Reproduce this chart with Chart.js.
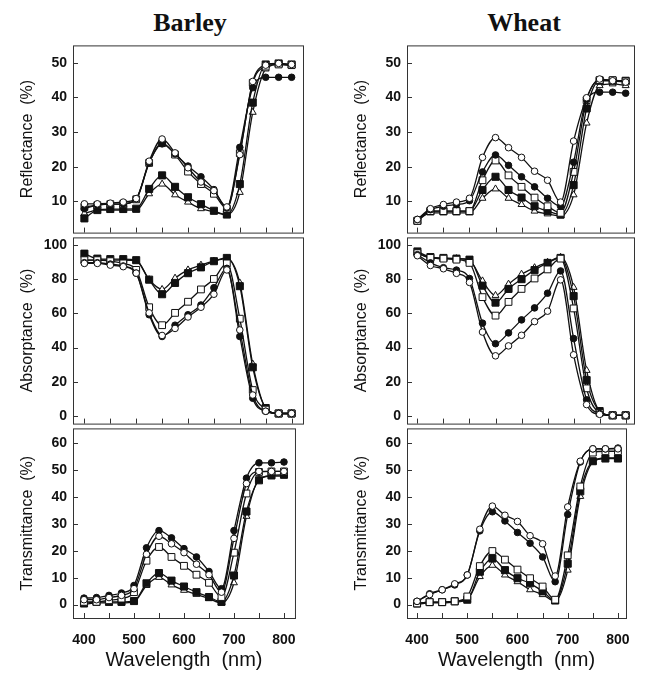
<!DOCTYPE html>
<html>
<head>
<meta charset="utf-8">
<script src="https://cdn.jsdelivr.net/npm/chart.js@4.4.1/dist/chart.umd.min.js"></script>
<style>
  body { margin: 0; background: #fff; }
  #page { position: relative; width: 648px; height: 673px; overflow: hidden; }
  .panel { position: absolute; }
  .crop { position: absolute; top: 8px; line-height: 30px; transform: translateX(-50%);
          font: bold 26px 'Liberation Serif', 'Times New Roman', serif; color: #111; }
</style>
</head>
<body>
<div id="page">
  <div class="crop" style="left:190px">Barley</div>
  <div class="crop" style="left:524px">Wheat</div>
</div>
<script>
const wavelengths = [400, 425, 450, 475, 500, 525, 550, 575, 600, 625, 650, 675, 700, 725, 750, 775, 800];
const xTicks = [400, 450, 500, 550, 600, 650, 700, 750, 800];
const reflTicks = [10, 20, 30, 40, 50];
const absTicks = [0, 20, 40, 60, 80, 100];
const transTicks = [0, 10, 20, 30, 40, 50, 60];

// series order: open circle, filled circle, open square, filled square, open triangle

// barley reflectance (%)
const barleyReflOC = [9.3, 9.3, 9.5, 9.8, 10.8, 21.6, 28, 24, 19.7, 15.6, 13.1, 8.4, 23.5, 44.6, 49.3, 49.8, 49.5];
const barleyReflFC = [7.9, 8.9, 9.2, 9.3, 10.8, 21.1, 26.6, 23.7, 20.2, 17.1, 13.4, 8.1, 25.6, 42.8, 45.8, 45.8, 45.8];
const barleyReflOS = [8.4, 8.9, 9.2, 9.3, 10.6, 21.1, 26.8, 23.5, 18.6, 15, 12.2, 7.9, 23.9, 44.2, 48.9, 49.5, 49.3];
const barleyReflFS = [5.1, 7.5, 7.8, 7.8, 7.9, 13.6, 17.5, 14.2, 11.2, 9.2, 7.3, 6.2, 15, 38.5, 49.5, 49.8, 49.5];
const barleyReflOT = [6.5, 7.5, 7.5, 7.5, 7.5, 12.2, 15, 11.9, 9.8, 7.9, 7, 6.1, 12.6, 35.7, 48.2, 49.5, 49.2];

// barley absorptance (%)
const barleyAbsOC = [89.2, 89.2, 88.2, 87.3, 83.5, 60.3, 47.1, 51.2, 57.9, 63.6, 71.2, 85.4, 50.3, 12.3, 2.8, 1.5, 1.5];
const barleyAbsFC = [89.6, 89.6, 88.8, 87.7, 83.5, 59.2, 46.5, 53.1, 59.2, 64.9, 75, 86.3, 46.5, 10.4, 2.8, 1.5, 1.5];
const barleyAbsOS = [91.1, 91.1, 90.5, 89.2, 85.4, 63.6, 53.1, 60.3, 66.8, 74, 80.1, 89.2, 56.9, 15.2, 3.8, 1.5, 1.5];
const barleyAbsFS = [94.9, 92, 91.7, 91.7, 91.1, 79.7, 71.2, 77.8, 83.5, 86.9, 90.5, 92.4, 75.9, 28.5, 4.7, 1.5, 1.5];
const barleyAbsOT = [91.1, 91.1, 91.1, 91.1, 90.7, 79.7, 74, 80.6, 85.4, 88.2, 90.5, 92, 77.8, 30.4, 4.7, 1.5, 1.5];

// barley transmittance (%)
const barleyTransOC = [1.8, 1.8, 2.6, 3.4, 5.9, 18.7, 25.4, 22.6, 19.3, 15, 11.1, 4.6, 24.6, 45, 49.5, 49.5, 49.5];
const barleyTransFC = [2.4, 2.6, 3.4, 4.3, 7.1, 21.1, 27.5, 24.8, 20.8, 17.7, 12.3, 5.9, 27.5, 47, 52.7, 52.7, 53];
const barleyTransOS = [1, 1, 1.6, 2.2, 4.6, 16.3, 21.4, 17.7, 14.4, 11.1, 8.1, 2.8, 19.3, 41.3, 49.3, 49.5, 49.5];
const barleyTransFS = [0.4, 1, 1, 1, 1.3, 7.9, 11.7, 8.9, 6.7, 4.6, 2.8, 1, 10.8, 34.6, 46.2, 48, 48.3];
const barleyTransOT = [0, 0.6, 0.6, 0.6, 1, 7.1, 10.1, 7.3, 5.3, 3.8, 2.2, 0.6, 8.1, 32.8, 46.6, 47.8, 47.8];

// wheat reflectance (%)
const wheatReflOC = [4.8, 7.9, 9.1, 9.8, 10.9, 22.7, 28.4, 25.5, 22.7, 18.7, 16.1, 9.8, 27.4, 39.9, 45.3, 44.8, 44.4];
const wheatReflFC = [4.8, 7.6, 8.6, 9.1, 10.2, 18.5, 23.4, 20.4, 17.1, 14.2, 10.9, 8.6, 21.3, 39.4, 41.5, 41.5, 41.2];
const wheatReflOS = [4.4, 7.2, 7.2, 7.2, 7.2, 16.1, 21.8, 17.5, 14.2, 11.1, 8.6, 6.7, 18.5, 39.2, 45, 45, 44.6];
const wheatReflFS = [4.4, 7.2, 7.2, 7.2, 7.2, 13.3, 17.1, 13.3, 11.1, 8.6, 7.2, 6.2, 14.7, 36.8, 44.8, 44.8, 44.8];
const wheatReflOT = [4.4, 6.7, 6.7, 6.7, 6.7, 10.9, 13.6, 10.9, 9.1, 7.2, 6.4, 5.8, 11.9, 32.6, 43.4, 43.9, 43.4];

// wheat absorptance (%)
const wheatAbsOC = [93.7, 88, 86.1, 83.4, 78.1, 49.1, 35.2, 41, 47.2, 55.2, 61.3, 79.6, 35.8, 6.7, 1, 0.4, 0.4];
const wheatAbsFC = [94.3, 89.5, 86.7, 85.3, 80.4, 54.3, 42.3, 48.6, 56.2, 63.2, 71.8, 84.8, 45.3, 9.5, 1.5, 0.4, 0.4];
const wheatAbsOS = [95.2, 92.4, 92, 91.4, 89.5, 69.5, 58.7, 66.7, 74.3, 80.4, 85.7, 92, 62.9, 16.2, 1.9, 0.4, 0.4];
const wheatAbsFS = [96.2, 92.9, 92.4, 92, 91.4, 76.2, 66.3, 74.3, 80, 85.3, 89.5, 92.4, 70.1, 21, 2.9, 0.4, 0.4];
const wheatAbsOT = [95.2, 92.4, 92, 92, 91, 79, 70.5, 77.1, 82.9, 86.7, 89.9, 92.8, 75.2, 26.7, 2.9, 0.4, 0.4];

// wheat transmittance (%)
const wheatTransOC = [1.2, 3.7, 5.5, 7.7, 11, 28, 36.6, 33.2, 30.9, 25.6, 22.6, 10.6, 36.3, 53.3, 57.9, 57.9, 57.9];
const wheatTransFC = [1.2, 4, 5.5, 7.3, 11, 27.4, 34.5, 31.1, 26.8, 22.8, 17.7, 8.5, 33.5, 53, 57.9, 57.9, 58.2];
const wheatTransOS = [0.4, 0.9, 0.9, 1.2, 3, 14.3, 19.9, 16.7, 13, 9.8, 6.7, 1.8, 18.3, 43.9, 56.5, 57, 57];
const wheatTransFS = [0.4, 0.9, 0.9, 1.2, 1.8, 12.2, 17.1, 12.8, 9.8, 7.9, 4.9, 1.5, 15.2, 42.1, 53.3, 54.3, 54.3];
const wheatTransOT = [0, 0.6, 0.6, 0.9, 1.8, 10.4, 14.6, 11, 8.5, 5.5, 3.7, 1.2, 12.8, 40.2, 53, 54.5, 54.5];

const ink = '#111';
const markerStyles = [
  { pointStyle: 'circle', pointRadius: 3.3, pointBackgroundColor: '#fff' },
  { pointStyle: 'circle', pointRadius: 3.3, pointBackgroundColor: ink },
  { pointStyle: 'rect', pointRadius: 4.8, pointBackgroundColor: '#fff' },
  { pointStyle: 'rect', pointRadius: 5, pointBackgroundColor: ink },
  { pointStyle: 'triangle', pointRadius: 4, pointBackgroundColor: '#fff' }
];

Chart.defaults.font.family = "'Liberation Sans', Arial, sans-serif";
Chart.defaults.color = ink;

// box around the plot area plus inward tick marks
const framePlugin = {
  id: 'frame',
  afterDraw(chart) {
    const { ctx, chartArea: a, scales: { x, y } } = chart;
    ctx.save();
    ctx.strokeStyle = '#333';
    ctx.lineWidth = 1;
    ctx.strokeRect(a.left + 0.5, a.top + 0.5, a.right - a.left, a.bottom - a.top);
    ctx.beginPath();
    xTicks.forEach(v => {
      const px = Math.round(x.getPixelForValue(v)) + 0.5;
      ctx.moveTo(px, a.bottom);
      ctx.lineTo(px, a.bottom - 5);
    });
    y.ticks.forEach(t => {
      const py = Math.round(y.getPixelForValue(t.value)) + 0.5;
      ctx.moveTo(a.left, py);
      ctx.lineTo(a.left + 5, py);
    });
    ctx.stroke();
    ctx.restore();
  }
};

function makePanel(p) {
  const div = document.createElement('div');
  div.className = 'panel';
  div.style.left = p.left + 'px';
  div.style.top = p.top + 'px';
  const canvas = document.createElement('canvas');
  canvas.width = 310;
  canvas.height = p.height;
  div.appendChild(canvas);
  document.getElementById('page').appendChild(div);

  const datasets = p.series.map((vals, i) => Object.assign({
    data: vals.map((v, j) => ({ x: wavelengths[j], y: v })),
    borderColor: ink,
    borderWidth: 1.3,
    cubicInterpolationMode: 'monotone',
    pointBorderColor: ink,
    pointBorderWidth: 1
  }, markerStyles[i]));

  new Chart(canvas, {
    type: 'line',
    data: { datasets: datasets },
    options: {
      responsive: false,
      animation: false,
      layout: { autoPadding: false, padding: { top: 12, bottom: p.bottomRow ? 0 : 12, left: 0, right: p.padRight } },
      plugins: { legend: { display: false }, tooltip: { enabled: false } },
      scales: {
        x: {
          type: 'linear',
          min: p.xMin,
          max: p.xMax,
          display: p.bottomRow,
          grid: { display: false, drawTicks: false },
          border: { display: false },
          afterBuildTicks: s => { s.ticks = xTicks.map(v => ({ value: v })); },
          afterFit: s => { s.height = p.bottomRow ? 55 : 0; },
          ticks: {
            autoSkip: false, maxRotation: 0, padding: 14,
            font: { size: 14, weight: 'bold' },
            callback: v => (v % 100 === 0 ? String(v) : '')
          },
          title: { display: true, text: 'Wavelength  (nm)', font: { size: 20 }, padding: { top: 0, bottom: 1 } }
        },
        y: {
          min: p.yMin,
          max: p.yMax,
          grid: { display: false, drawTicks: false },
          border: { display: false },
          afterBuildTicks: s => { s.ticks = p.yTicks.map(v => ({ value: v })); },
          afterFit: s => { s.width = 73; },
          ticks: { padding: 6, font: { size: 14, weight: 'bold' } },
          title: { display: true, text: p.yTitle, font: { size: 16 }, padding: { top: 18.4 } }
        }
      }
    },
    plugins: [framePlugin]
  });
}

const columns = [
  { left: 0, padRight: 7, xMin: 378, xMax: 822,
    refl: [barleyReflOC, barleyReflFC, barleyReflOS, barleyReflFS, barleyReflOT],
    abs: [barleyAbsOC, barleyAbsFC, barleyAbsOS, barleyAbsFS, barleyAbsOT],
    trans: [barleyTransOC, barleyTransFC, barleyTransOS, barleyTransFS, barleyTransOT] },
  { left: 334, padRight: 10, xMin: 380, xMax: 816,
    refl: [wheatReflOC, wheatReflFC, wheatReflOS, wheatReflFS, wheatReflOT],
    abs: [wheatAbsOC, wheatAbsFC, wheatAbsOS, wheatAbsFS, wheatAbsOT],
    trans: [wheatTransOC, wheatTransFC, wheatTransOS, wheatTransFS, wheatTransOT] }
];

columns.forEach(c => {
  const common = { left: c.left, padRight: c.padRight, xMin: c.xMin, xMax: c.xMax };
  makePanel(Object.assign({}, common, { top: 31, height: 216, series: c.refl, yMin: 1, yMax: 55,
    yTicks: reflTicks, yTitle: 'Reflectance  (%)', bottomRow: false }));
  makePanel(Object.assign({}, common, { top: 223, height: 215, series: c.abs, yMin: -4.4, yMax: 104.4,
    yTicks: absTicks, yTitle: 'Absorptance  (%)', bottomRow: false }));
  makePanel(Object.assign({}, common, { top: 414, height: 259, series: c.trans, yMin: -5, yMax: 65.5,
    yTicks: transTicks, yTitle: 'Transmittance  (%)', bottomRow: true }));
});
</script>
</body>
</html>
